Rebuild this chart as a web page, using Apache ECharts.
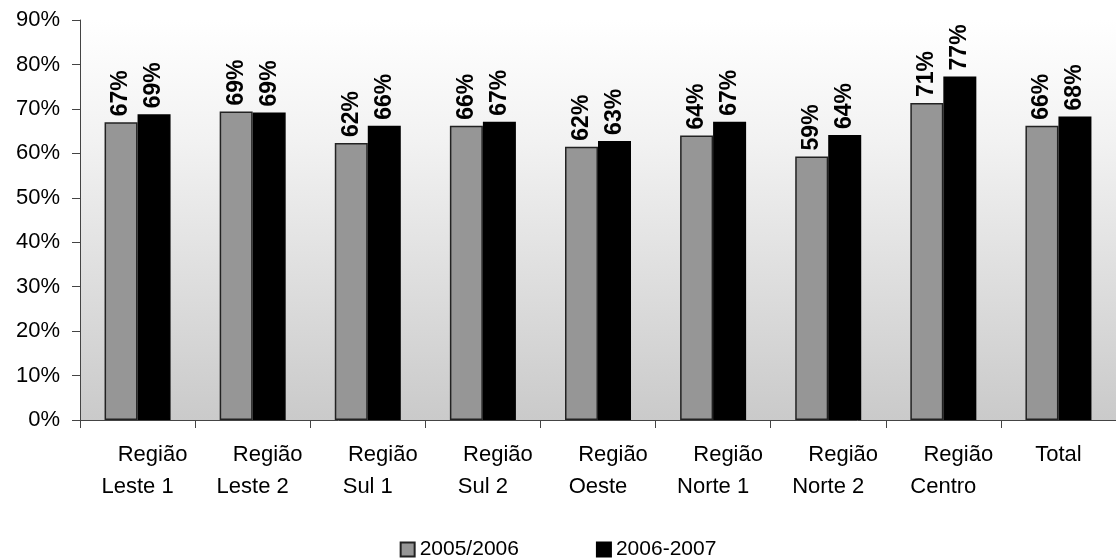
<!DOCTYPE html>
<html>
<head>
<meta charset="utf-8">
<script src="https://cdn.jsdelivr.net/npm/echarts@6/dist/echarts.min.js"></script>
<style>html,body{margin:0;padding:0;background:#fff;}#c{width:1116px;height:558px;}</style>
</head>
<body>
<div id="c"></div>
<script>
const categories = ['Região Leste 1','Região Leste 2','Região Sul 1','Região Sul 2','Região Oeste','Região Norte 1','Região Norte 2','Região Centro','Total'];
const series1Name = '2005/2006';
const series2Name = '2006-2007';
const series1 = [67.0, 69.4, 62.3, 66.2, 61.5, 64.0, 59.3, 71.3, 66.2];
const series2 = [68.8, 69.2, 66.2, 67.1, 62.8, 67.1, 64.1, 77.3, 68.3];
const yTicks = [0,10,20,30,40,50,60,70,80,90];

const FONT = 'Liberation Sans, Arial, sans-serif';
const chart = echarts.init(document.getElementById('c'));
const lbl = {
  show: true, position: 'top', rotate: 90, align: 'left', verticalAlign: 'middle',
  distance: 6, fontFamily: FONT, fontSize: 23, fontWeight: 'bold', color: '#000',
  formatter: p => Math.round(p.value) + '%'
};
chart.setOption({
  animation: false,
  textStyle: {fontFamily: FONT},
  grid: {
    left: 80, right: -14, top: 20, bottom: 138, containLabel: false, show: true, borderWidth: 0,
    backgroundColor: {type: 'linear', x: 0, y: 0, x2: 0, y2: 1,
      colorStops: [{offset: 0, color: '#ffffff'}, {offset: 0.3, color: '#f2f2f2'}, {offset: 1, color: '#cacaca'}]}
  },
  legend: {
    top: 534, left: 'center', itemWidth: 14, itemHeight: 14, itemGap: 77, icon: 'rect',
    textStyle: {fontFamily: FONT, fontSize: 21, color: '#000'},
    data: [series1Name, series2Name]
  },
  xAxis: {
    type: 'category', data: categories,
    axisLine: {lineStyle: {color: '#444', width: 1}},
    axisTick: {show: true, length: 8, lineStyle: {color: '#444'}},
    axisLabel: {
      interval: 0, margin: 19, fontFamily: FONT, fontSize: 22, color: '#000', lineHeight: 32,
      formatter: v => {
        if (v.startsWith('Região ')) return '{a|Região}\n{b|' + v.slice(7) + '}';
        return '{b|' + v + '}';
      },
      rich: {
        a: {fontFamily: FONT, fontSize: 22, color: '#000', lineHeight: 32, padding: [0,0,0,30]},
        b: {fontFamily: FONT, fontSize: 22, color: '#000', lineHeight: 32}
      }
    }
  },
  yAxis: {
    type: 'value', min: yTicks[0], max: yTicks[yTicks.length-1], interval: 10,
    axisLine: {show: true, lineStyle: {color: '#444', width: 1}},
    axisTick: {show: true, length: 8, lineStyle: {color: '#444'}},
    splitLine: {show: false},
    axisLabel: {margin: 20, fontFamily: FONT, fontSize: 22, color: '#000', formatter: v => v + '%'}
  },
  series: [
    {name: series1Name, type: 'bar', data: series1, barWidth: 33, barGap: '0%',
     itemStyle: {color: '#969696', borderColor: '#222', borderWidth: 1.5}, label: lbl},
    {name: series2Name, type: 'bar', data: series2, barWidth: 33, barGap: '0%',
     itemStyle: {color: '#000', borderColor: '#000', borderWidth: 1.5}, label: lbl}
  ]
});
</script>
</body>
</html>
